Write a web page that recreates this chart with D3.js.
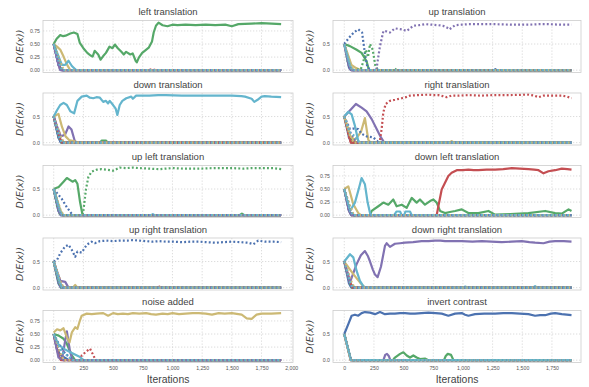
<!DOCTYPE html>
<html>
<head>
<meta charset="utf-8">
<script src="https://cdn.jsdelivr.net/npm/d3@7"></script>
<style>
  body { margin: 0; background: #fff; }
  svg { display: block; }
</style>
</head>
<body>
<div id="chart"></div>
<script>
const END = 1915;

// seaborn "deep" cycle; series 0-5 solid, 6-11 dotted
const palette = ["#4C72B0", "#55A868", "#C44E52", "#8172B2", "#CCB974", "#64B5CD"];

const titles = [
    "left translation", "up translation",
    "down translation", "right translation",
    "up left translation", "down left translation",
    "up right translation", "down right translation",
    "noise added", "invert contrast"
];

const fineTicks = [0, 0.25, 0.5, 0.75];
const coarseTicks = [0, 0.5];
const xTicksLeft = [0, 250, 500, 750, 1000, 1250, 1500, 1750, 2000];
const xTicksRight = [0, 250, 500, 750, 1000, 1250, 1500, 1750];

const leftTranslation = [
    [0, [[0,.5],[45,.1],[65,0],[END,0]]],
    [1, [[0,.5],[25,.6],[55,.67],[80,.65],[100,.66],[140,.7],[170,.72],[200,.69],[220,.52],[250,.42],[283,.33],[310,.28],[328,.26],[345,.37],[375,.3],[395,.2],[417,.27],[440,.33],[470,.45],[495,.42],[515,.49],[540,.42],[570,.35],[590,.3],[610,.35],[645,.3],[665,.32],[690,.18],[700,.15],[717,.24],[745,.33],[772,.38],[800,.43],[828,.55],[842,.72],[861,.85],[883,.91],[917,.86],[958,.84],[1000,.87],[1042,.86],[1110,.87],[1195,.86],[1280,.87],[1360,.86],[1445,.87],[1500,.84],[1555,.88],[1665,.89],[1750,.9],[1835,.89],[END,.88]]],
    [2, [[0,.5],[50,.05],[70,0],[END,0]]],
    [3, [[0,.5],[35,.15],[55,0],[END,0]]],
    [4, [[0,.5],[28,.45],[56,.39],[83,.26],[111,.11],[139,0],[END,0]]],
    [5, [[0,.5],[42,.26],[69,.1],[97,.1],[125,.18],[153,.08],[189,0],[END,0]]],
    [6, [[0,.5],[40,.12],[60,0],[END,0]]],
    [7, [[0,.5],[45,.2],[70,0],[END,0]]],
    [8, [[0,.5],[50,.1],[75,0],[800,0],[830,.02],[860,0],[END,0]]],
    [9, [[0,.5],[38,.1],[58,0],[END,0]]],
    [10, [[0,.5],[55,.15],[85,0],[END,0]]],
    [11, [[0,.5],[48,.12],[72,0],[END,0]]]
];

const upTranslation = [
    [0, [[0,.5],[40,.05],[55,0],[END,0]]],
    [1, [[0,.5],[48,.46],[104,.39],[146,.33],[188,.17],[208,0],[END,0]]],
    [2, [[0,.5],[45,.08],[62,0],[END,0]]],
    [3, [[0,.5],[40,.1],[60,0],[END,0]]],
    [4, [[0,.5],[60,.1],[100,.04],[140,0],[END,0]]],
    [5, [[0,.5],[50,.08],[70,0],[END,0]]],
    [6, [[0,.5],[40,.62],[80,.72],[118,.78],[150,.72],[175,.3],[195,.05],[230,0],[1260,0],[1275,.02],[1290,0],[END,0]]],
    [7, [[0,.5],[30,.15],[60,0],[140,.02],[165,.2],[182,.39],[200,.25],[217,.5],[240,.39],[262,.08],[285,0],[415,0],[427,.03],[440,0],[END,0]]],
    [8, [[0,.5],[42,.1],[62,0],[END,0]]],
    [9, [[0,.5],[40,.05],[55,0],[270,0],[300,.45],[330,.75],[360,.74],[385,.72],[427,.8],[484,.78],[526,.75],[582,.85],[630,.86],[681,.88],[740,.87],[793,.86],[830,.85],[863,.82],[886,.78],[934,.86],[990,.87],[1046,.88],[1150,.88],[1271,.88],[1400,.87],[1552,.87],[1640,.88],[1721,.88],[1820,.87],[END,.87]]],
    [10, [[0,.5],[55,.1],[80,0],[END,0]]],
    [11, [[0,.5],[46,.1],[66,0],[END,0]]]
];

const downTranslation = [
    [0, [[0,.5],[40,.1],[60,0],[END,0]]],
    [1, [[0,.5],[45,.1],[65,0],[390,0],[405,.04],[440,.04],[455,0],[END,0]]],
    [2, [[0,.5],[50,.1],[70,0],[END,0]]],
    [3, [[0,.5],[30,.3],[60,.12],[95,.15],[125,.31],[150,.25],[175,.05],[190,0],[END,0]]],
    [4, [[0,.5],[40,.55],[70,.3],[100,.12],[130,.05],[185,.02],[200,0],[END,0]]],
    [5, [[0,.5],[28,.62],[55,.72],[83,.76],[111,.72],[140,.6],[172,.56],[200,.8],[236,.88],[278,.9],[305,.86],[333,.85],[360,.87],[389,.86],[417,.78],[440,.8],[458,.75],[472,.8],[500,.72],[522,.65],[536,.53],[556,.72],[578,.8],[611,.85],[653,.88],[667,.84],[694,.9],[750,.9],[806,.9],[880,.91],[944,.91],[1080,.9],[1222,.9],[1360,.9],[1500,.9],[1580,.89],[1611,.88],[1667,.84],[1689,.78],[1717,.82],[1750,.88],[1778,.89],[1833,.88],[END,.87]]],
    [6, [[0,.5],[42,.08],[62,0],[END,0]]],
    [7, [[0,.5],[50,.12],[72,0],[END,0]]],
    [8, [[0,.5],[55,.1],[78,0],[500,0],[514,.03],[530,0],[880,0],[895,.02],[910,0],[END,0]]],
    [9, [[0,.5],[45,.1],[66,0],[END,0]]],
    [10, [[0,.5],[60,.12],[85,0],[END,0]]],
    [11, [[0,.5],[48,.1],[70,0],[END,0]]]
];

const rightTranslation = [
    [0, [[0,.5],[40,.1],[60,0],[END,0]]],
    [1, [[0,.5],[45,.15],[65,0],[END,0]]],
    [2, [[0,.5],[35,.2],[55,0],[END,0]]],
    [3, [[0,.5],[34,.58],[98,.74],[146,.67],[188,.6],[231,.45],[273,.26],[309,.1],[337,0],[END,0]]],
    [4, [[0,.5],[48,.13],[90,.05],[140,.2],[174,.47],[202,.06],[220,0],[890,0],[905,.03],[925,0],[END,0]]],
    [5, [[0,.5],[34,.59],[62,.54],[90,.32],[118,.03],[135,0],[END,0]]],
    [6, [[0,.5],[48,.26],[76,.27],[118,.26],[146,.17],[188,.12],[245,.1],[287,.01],[300,0],[END,0]]],
    [7, [[0,.5],[50,.1],[70,0],[END,0]]],
    [8, [[0,.5],[40,.1],[60,0],[290,0],[301,.05],[315,.26],[329,.58],[349,.74],[385,.8],[427,.82],[484,.85],[520,.87],[554,.9],[620,.91],[709,.92],[750,.91],[793,.91],[830,.89],[863,.87],[905,.9],[970,.9],[1046,.91],[1150,.9],[1271,.91],[1400,.91],[1552,.92],[1600,.9],[1637,.87],[1679,.9],[1760,.9],[1833,.9],[1880,.88],[END,.85]]],
    [9, [[0,.5],[60,.15],[90,.05],[120,0],[END,0]]],
    [10, [[0,.5],[55,.12],[80,0],[END,0]]],
    [11, [[0,.5],[45,.2],[75,.15],[110,.05],[130,0],[END,0]]]
];

const upLeftTranslation = [
    [0, [[0,.5],[40,.08],[60,0],[END,0]]],
    [1, [[0,.5],[42,.54],[83,.64],[111,.71],[139,.67],[161,.64],[181,.67],[200,.6],[222,.25],[239,.05],[250,0],[1565,0],[1585,.03],[1605,0],[END,0]]],
    [2, [[0,.5],[45,.1],[65,0],[END,0]]],
    [3, [[0,.5],[38,.1],[58,0],[END,0]]],
    [4, [[0,.5],[55,.1],[80,0],[END,0]]],
    [5, [[0,.5],[50,.1],[70,0],[820,0],[835,.02],[850,0],[END,0]]],
    [6, [[0,.5],[69,.31],[111,.15],[153,.02],[170,0],[END,0]]],
    [7, [[0,.5],[30,.15],[55,0],[239,0],[250,.08],[272,.5],[292,.73],[319,.83],[361,.87],[400,.88],[444,.87],[475,.86],[500,.85],[528,.88],[556,.91],[610,.9],[667,.91],[720,.9],[806,.89],[889,.88],[940,.89],[1000,.9],[1100,.89],[1222,.89],[1350,.9],[1500,.9],[1600,.89],[1667,.9],[1778,.9],[1850,.9],[END,.88]]],
    [8, [[0,.5],[48,.1],[70,0],[END,0]]],
    [9, [[0,.5],[42,.1],[62,0],[END,0]]],
    [10, [[0,.5],[58,.1],[82,0],[END,0]]],
    [11, [[0,.5],[50,.1],[72,0],[END,0]]]
];

const downLeftTranslation = [
    [0, [[0,.5],[40,.08],[60,0],[END,0]]],
    [1, [[0,.5],[40,.1],[60,0],[217,0],[231,.08],[287,.17],[329,.24],[371,.2],[413,.3],[441,.17],[484,.2],[526,.14],[568,.33],[610,.24],[638,.3],[680,.2],[723,.27],[751,.3],[779,.24],[807,.08],[849,.04],[890,.06],[934,.08],[990,.11],[1046,.04],[1130,.04],[1215,.08],[1271,.01],[1400,.02],[1552,.04],[1693,.08],[1777,.04],[1833,.03],[1890,.11],[END,.08]]],
    [2, [[0,.5],[40,.1],[62,0],[779,0],[793,.17],[821,.49],[849,.62],[877,.75],[905,.81],[948,.86],[1000,.86],[1046,.87],[1090,.86],[1130,.86],[1200,.87],[1271,.87],[1340,.88],[1412,.9],[1480,.89],[1552,.88],[1600,.87],[1637,.86],[1679,.8],[1721,.84],[1777,.86],[1833,.89],[1880,.88],[END,.87]]],
    [3, [[0,.5],[38,.1],[58,0],[END,0]]],
    [4, [[0,.5],[34,.55],[76,.21],[118,.04],[140,0],[END,0]]],
    [5, [[0,.5],[48,.08],[90,.24],[124,.52],[146,.71],[174,.59],[197,.24],[217,.04],[231,0],[420,0],[440,.07],[470,.07],[484,0],[505,0],[515,.07],[554,.07],[568,0],[END,0]]],
    [6, [[0,.5],[42,.1],[62,0],[END,0]]],
    [7, [[0,.5],[48,.12],[70,0],[END,0]]],
    [8, [[0,.5],[52,.1],[75,0],[END,0]]],
    [9, [[0,.5],[44,.1],[64,0],[END,0]]],
    [10, [[0,.5],[58,.12],[82,0],[END,0]]],
    [11, [[0,.5],[50,.1],[72,0],[END,0]]]
];

const upRightTranslation = [
    [0, [[0,.5],[40,.08],[60,0],[END,0]]],
    [1, [[0,.5],[45,.1],[65,0],[END,0]]],
    [2, [[0,.5],[50,.1],[70,0],[END,0]]],
    [3, [[0,.5],[56,.13],[97,.11],[125,0],[END,0]]],
    [4, [[0,.5],[50,.1],[75,0],[160,0],[181,.05],[200,0],[END,0]]],
    [5, [[0,.5],[45,.15],[70,0],[END,0]]],
    [6, [[0,.5],[28,.53],[56,.66],[97,.79],[125,.82],[153,.72],[181,.59],[200,.69],[236,.67],[278,.82],[319,.88],[347,.85],[389,.89],[444,.9],[500,.89],[556,.9],[620,.9],[667,.91],[722,.9],[778,.89],[833,.88],[890,.89],[944,.88],[1010,.88],[1083,.87],[1150,.88],[1222,.88],[1290,.87],[1361,.86],[1430,.87],[1500,.88],[1570,.87],[1639,.86],[1681,.83],[1722,.9],[1778,.88],[1850,.88],[END,.87]]],
    [7, [[0,.5],[42,.1],[62,0],[END,0]]],
    [8, [[0,.5],[55,.12],[78,0],[880,0],[890,.02],[900,0],[END,0]]],
    [9, [[0,.5],[40,.1],[60,0],[END,0]]],
    [10, [[0,.5],[60,.1],[85,0],[END,0]]],
    [11, [[0,.5],[50,.1],[72,0],[END,0]]]
];

const downRightTranslation = [
    [0, [[0,.5],[40,.08],[60,0],[END,0]]],
    [1, [[0,.5],[45,.1],[65,0],[END,0]]],
    [2, [[0,.5],[50,.1],[70,0],[END,0]]],
    [3, [[0,.5],[48,.1],[80,.3],[104,.45],[140,.62],[174,.7],[200,.6],[217,.5],[240,.35],[259,.25],[281,.2],[309,.4],[343,.8],[357,.85],[385,.78],[427,.84],[470,.85],[512,.86],[580,.87],[652,.89],[710,.89],[765,.9],[810,.9],[849,.89],[920,.89],[990,.89],[1080,.88],[1159,.89],[1240,.88],[1327,.87],[1410,.88],[1496,.89],[1560,.87],[1608,.86],[1679,.85],[1730,.88],[1777,.89],[1850,.89],[END,.88]]],
    [4, [[0,.5],[76,.26],[132,.1],[160,.03],[180,0],[END,0]]],
    [5, [[0,.5],[48,.64],[76,.58],[104,.32],[132,.13],[160,.03],[180,0],[1000,0],[1020,.02],[1040,0],[1590,0],[1608,.03],[1625,0],[END,0]]],
    [6, [[0,.5],[42,.1],[62,0],[END,0]]],
    [7, [[0,.5],[48,.12],[70,0],[END,0]]],
    [8, [[0,.5],[55,.1],[78,0],[END,0]]],
    [9, [[0,.5],[44,.1],[64,0],[END,0]]],
    [10, [[0,.5],[60,.12],[85,0],[END,0]]],
    [11, [[0,.5],[50,.1],[72,0],[END,0]]]
];

const noiseAdded = [
    [0, [[0,.5],[28,.2],[56,.1],[90,.05],[130,0],[END,0]]],
    [1, [[0,.5],[42,.47],[83,.41],[111,.31],[153,.09],[180,0],[END,0]]],
    [2, [[0,.5],[40,.1],[60,0],[END,0]]],
    [3, [[0,.5],[40,.05],[70,.02],[95,.35],[111,.55],[135,.2],[155,.02],[170,0],[END,0]]],
    [4, [[0,.53],[28,.59],[56,.57],[83,.61],[111,.44],[133,.34],[153,.53],[181,.63],[200,.6],[217,.73],[236,.85],[278,.89],[320,.88],[361,.89],[417,.9],[458,.85],[500,.9],[540,.88],[583,.89],[625,.88],[667,.9],[720,.89],[778,.9],[820,.88],[861,.87],[917,.89],[960,.88],[1000,.9],[1055,.88],[1111,.89],[1170,.9],[1222,.9],[1280,.89],[1333,.87],[1389,.9],[1440,.89],[1500,.9],[1583,.87],[1625,.8],[1667,.79],[1708,.87],[1750,.89],[1833,.89],[END,.9]]],
    [5, [[0,.5],[40,.3],[83,.22],[140,.15],[222,.06],[250,0],[END,0]]],
    [6, [[0,.5],[56,.25],[100,.12],[150,.03],[180,0],[END,0]]],
    [7, [[0,.5],[48,.15],[75,0],[END,0]]],
    [8, [[0,.5],[50,.1],[72,0],[225,0],[236,.09],[283,.18],[306,.22],[328,.12],[347,.03],[360,0],[END,0]]],
    [9, [[0,.5],[42,.1],[62,0],[END,0]]],
    [10, [[0,.5],[60,.12],[85,0],[END,0]]],
    [11, [[0,.5],[70,.15],[120,.08],[160,0],[END,0]]]
];

const invertContrast = [
    [0, [[0,.5],[34,.69],[62,.85],[90,.87],[118,.85],[146,.9],[174,.92],[217,.91],[259,.88],[301,.92],[343,.88],[385,.89],[427,.89],[470,.9],[512,.9],[555,.89],[596,.89],[650,.9],[709,.91],[770,.9],[821,.89],[877,.85],[934,.89],[990,.9],[1018,.87],[1046,.85],[1102,.88],[1180,.89],[1271,.89],[1340,.9],[1412,.9],[1480,.89],[1552,.88],[1608,.85],[1650,.86],[1693,.86],[1740,.89],[1777,.9],[1833,.88],[END,.86]]],
    [1, [[0,.5],[56,0],[410,0],[427,.05],[470,.12],[498,.15],[526,.09],[554,.05],[582,.09],[610,.05],[638,.02],[680,.03],[709,0],[840,0],[855,.08],[872,.12],[900,.1],[920,0],[END,0]]],
    [2, [[0,.5],[54,0],[END,0]]],
    [3, [[0,.5],[56,0],[330,0],[345,.1],[360,.12],[375,.08],[388,0],[END,0]]],
    [4, [[0,.5],[55,0],[END,0]]],
    [5, [[0,.5],[57,0],[END,0]]],
    [6, [[0,.5],[53,0],[END,0]]],
    [7, [[0,.5],[58,0],[END,0]]],
    [8, [[0,.5],[55,0],[END,0]]],
    [9, [[0,.5],[56,0],[END,0]]],
    [10, [[0,.5],[54,0],[END,0]]],
    [11, [[0,.5],[57,0],[END,0]]]
];

const panelData = [
    leftTranslation, upTranslation,
    downTranslation, rightTranslation,
    upLeftTranslation, downLeftTranslation,
    upRightTranslation, downRightTranslation,
    noiseAdded, invertContrast
];
const panelYTicks = [
    fineTicks, coarseTicks,
    coarseTicks, coarseTicks,
    coarseTicks, fineTicks,
    coarseTicks, coarseTicks,
    fineTicks, coarseTicks
];

function drawPanels() {
    const width = 589, height = 387;
    const columns = [
        { left: 43, right: 293, domain: [-90, 2015], ticks: xTicksLeft },
        { left: 333, right: 581, domain: [-95, 1995], ticks: xTicksRight }
    ];
    const rowTop = 20.5, rowStep = 72.5, boxH = 52;
    const font = "Liberation Sans, Arial, sans-serif";

    const svg = d3.select("#chart")
        .append("svg")
        .attr("width", width)
        .attr("height", height);

    const line = d3.line();

    panelData.forEach((series, i) => {
        const col = columns[i % 2];
        const row = Math.floor(i / 2);
        const top = rowTop + row * rowStep;

        const x = d3.scaleLinear().domain(col.domain).range([col.left, col.right]);
        const y = d3.scaleLinear().domain([-0.045, 0.95]).range([top + boxH, top]);

        const g = svg.append("g");
        const yTicks = panelYTicks[i];
        const fmt = yTicks.length > 2 ? d3.format(".2f") : d3.format(".1f");

        // grid
        g.selectAll(".vgrid")
            .data(col.ticks.filter(t => x(t) < col.right - 1))
            .enter().append("line")
            .attr("x1", d => x(d)).attr("x2", d => x(d))
            .attr("y1", top).attr("y2", top + boxH)
            .attr("stroke", "#cfcfcf")
            .attr("stroke-width", 0.7)
            .attr("stroke-dasharray", "1.3,1.7");
        g.selectAll(".hgrid")
            .data(yTicks)
            .enter().append("line")
            .attr("x1", col.left).attr("x2", col.right)
            .attr("y1", d => y(d)).attr("y2", d => y(d))
            .attr("stroke", "#cfcfcf")
            .attr("stroke-width", 0.7)
            .attr("stroke-dasharray", "1.3,1.7");

        // series
        series.forEach(([idx, pts]) => {
            line.x(d => x(d[0])).y(d => y(d[1]));
            g.append("path")
                .attr("d", line(pts))
                .attr("fill", "none")
                .attr("stroke", palette[idx % 6])
                .attr("stroke-width", 2.2)
                .attr("stroke-linejoin", "round")
                .attr("stroke-dasharray", idx >= 6 ? "1.9,2.2" : null);
        });

        // frame
        g.append("rect")
            .attr("x", col.left).attr("y", top)
            .attr("width", col.right - col.left).attr("height", boxH)
            .attr("fill", "none")
            .attr("stroke", "#cccccc")
            .attr("stroke-width", 0.8);

        // y axis
        const yAxis = g.append("g")
            .attr("transform", `translate(${col.left},0)`)
            .call(d3.axisLeft(y).tickValues(yTicks).tickFormat(fmt).tickSize(0).tickPadding(3));
        yAxis.select(".domain").remove();
        yAxis.selectAll("text")
            .style("font-family", font)
            .style("font-size", "5.2px")
            .attr("fill", "#555");

        // x axis only on bottom row
        if (row === 4) {
            const xAxis = g.append("g")
                .attr("transform", `translate(0,${top + boxH})`)
                .call(d3.axisBottom(x).tickValues(col.ticks).tickSize(0).tickPadding(4));
            xAxis.select(".domain").remove();
            xAxis.selectAll("text")
                .style("font-family", font)
                .style("font-size", "5.2px")
                .attr("fill", "#555");

            g.append("text")
                .attr("x", (col.left + col.right) / 2)
                .attr("y", 383)
                .attr("text-anchor", "middle")
                .style("font-family", font)
                .style("font-size", "10.4px")
                .attr("fill", "#444")
                .text("Iterations");
        }

        // title
        g.append("text")
            .attr("x", (col.left + col.right) / 2)
            .attr("y", top - 5.5)
            .attr("text-anchor", "middle")
            .style("font-family", font)
            .style("font-size", "9.5px")
            .style("font-weight", "normal")
            .attr("fill", "#444")
            .text(titles[i]);

        // y label
        g.append("text")
            .attr("transform", `translate(${col.left - 20},${top + boxH / 2}) rotate(-90)`)
            .attr("text-anchor", "middle")
            .style("font-family", "DejaVu Sans, sans-serif")
            .style("font-style", "italic")
            .style("font-size", "9.5px")
            .attr("fill", "#444")
            .text("D(E(x))");
    });
}

drawPanels();
</script>
</body>
</html>
